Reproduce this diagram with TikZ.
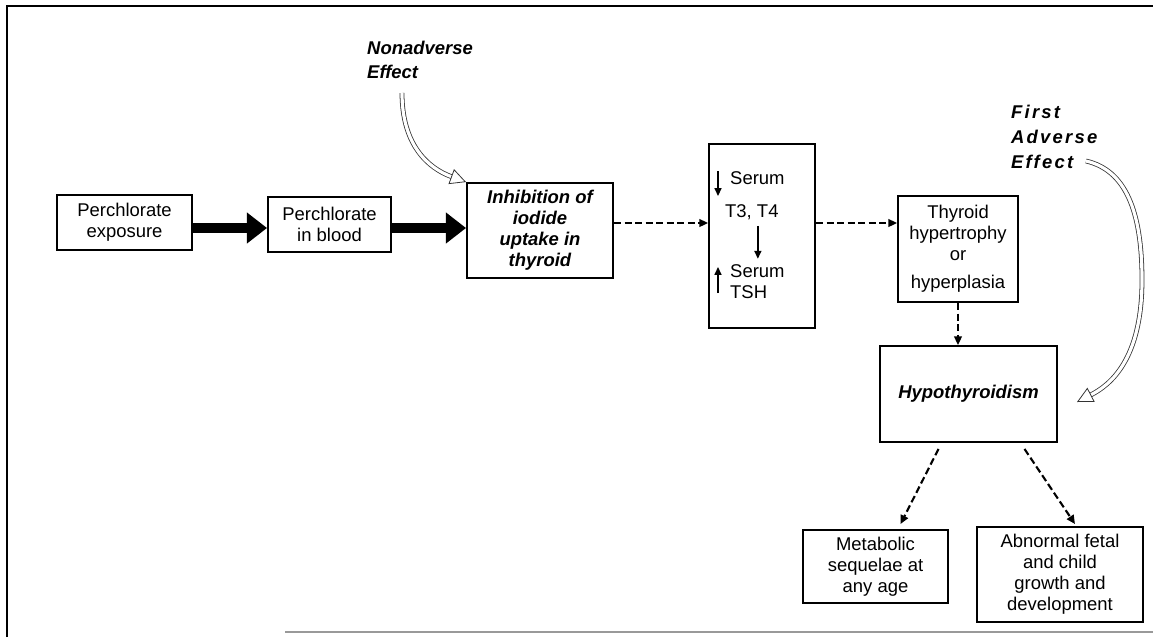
\documentclass[tikz,border=0pt]{standalone}
\usepackage{fontspec}
\setmainfont{Liberation Sans}
\usetikzlibrary{arrows.meta,calc}

\newcommand\boxfont{\fontsize{10.5}{12}\selectfont}
\newcommand\effectfont{\fontsize{10.5}{13.8}\selectfont\bfseries\itshape}

\tikzset{
  box/.style={draw, line width=1.1pt, inner sep=0pt, align=center, font=\boxfont},
  bigarrow/.style={line width=6.2pt, -{Triangle[length=11.5pt, width=17pt]}},
  dasharrow/.style={line width=0.9pt, dash pattern=on 4pt off 2pt, -{Triangle[length=5pt, width=4.5pt]}},
  tinyarrow/.style={line width=0.8pt, -{Triangle[length=4.5pt, width=4pt]}},
  hollow/.style={draw=black!80, line width=0.45pt, double=white, double distance=1.8pt,
    -{Triangle[open, length=9pt, width=9pt]}},
}

\begin{document}
\begin{tikzpicture}[x=0.02cm, y=-0.02cm]
  \useasboundingbox (0,0) rectangle (1153,637);
  % frame
  \draw[line width=1.1pt] (7,637) -- (7,6) -- (1153,6);
  \draw[line width=1pt, black!40] (285,632) -- (1153,632);

  \coordinate (thickrow) at (0,228);
  \coordinate (row) at (0,223);

  % boxes
  \node[box, minimum width=2.70cm, minimum height=1.10cm] (expo) at (124.5,222.5) {Perchlorate\\exposure};
  \node[box, minimum width=2.46cm, minimum height=1.10cm] (blood) at (329.5,224.5) {Perchlorate\\in blood};
  \node[box, minimum width=2.92cm, minimum height=1.90cm, font=\boxfont\bfseries\itshape] (inhib) at (540,230.5) {Inhibition of\\iodide\\uptake in\\thyroid};
  \node[box, minimum width=2.12cm, minimum height=3.68cm] (serum) at (762,236) {};
  \node[box, minimum width=2.40cm, minimum height=2.12cm] (hyper) at (958,249) {Thyroid\\hypertrophy\\or\\[4pt]hyperplasia};
  \node[box, minimum width=3.54cm, minimum height=1.92cm, font=\boxfont\bfseries\itshape] (hypo) at (968.5,394) {Hypothyroidism};
  \node[box, minimum width=2.90cm, minimum height=1.46cm] (meta) at (875.5,566.5) {Metabolic\\sequelae at\\any age};
  \node[box, minimum width=3.32cm, minimum height=1.90cm] (growth) at (1060,574.5) {Abnormal fetal\\and child\\growth and\\development};

  % inside the serum box
  \node[anchor=west, font=\boxfont] (serumT) at (724,178) {Serum};
  \node[anchor=west, font=\boxfont] (tthree) at (719,212) {T3, T4};
  \node[anchor=west, align=left, font=\boxfont] (serumH) at (724,282) {Serum\\TSH};
  \draw[tinyarrow] ($(serumT.west)+(-6,-7)$) -- ++(0,25);
  \draw[tinyarrow] ($(tthree.south)+(6,0)$) -- ($(tthree.south |- serumH.north)+(6,0)$);
  \draw[tinyarrow] ($(serumH.west)+(-6,11)$) -- ++(0,-26);

  % main chain
  \draw[bigarrow] (expo.east |- thickrow) -- (blood.west |- thickrow);
  \draw[bigarrow] (blood.east |- thickrow) -- (inhib.west |- thickrow);
  \draw[dasharrow] (inhib.east |- row) -- (serum.west |- row);
  \draw[dasharrow] (serum.east |- row) -- (hyper.west |- row);
  \draw[dasharrow] (hyper.south) -- (hyper.south |- hypo.north);
  \draw[dasharrow, line width=1.2pt] ($(hypo.south)+(-30,6)$) -- ($(meta.north)+(25,-5)$);
  \draw[dasharrow, line width=1.2pt] ($(hypo.south)+(56,6)$) -- ($(growth.north)+(15,-2)$);

  % effect labels
  \node[anchor=west, align=left, font=\effectfont] (nonadv) at (361,60) {Nonadverse\\Effect};
  \node[anchor=west, align=left, font={\fontsize{10.5}{14.2}\selectfont\bfseries\itshape\addfontfeatures{LetterSpace=12}}] (firstadv) at (1005,137) {First\\Adverse\\Effect};

  \coordinate (nontail) at (402,93);
  \draw[hollow] (nontail) .. controls (402,145) and (428,168) .. (inhib.north west);
  \coordinate (advtail) at (1086,161);
  \coordinate (advtip) at (1077,402);
  \draw[hollow] (advtail) .. controls (1125,170) and (1142,210) .. (1142,280)
    .. controls (1142,360) and (1110,385) .. (advtip);
\end{tikzpicture}
\end{document}
